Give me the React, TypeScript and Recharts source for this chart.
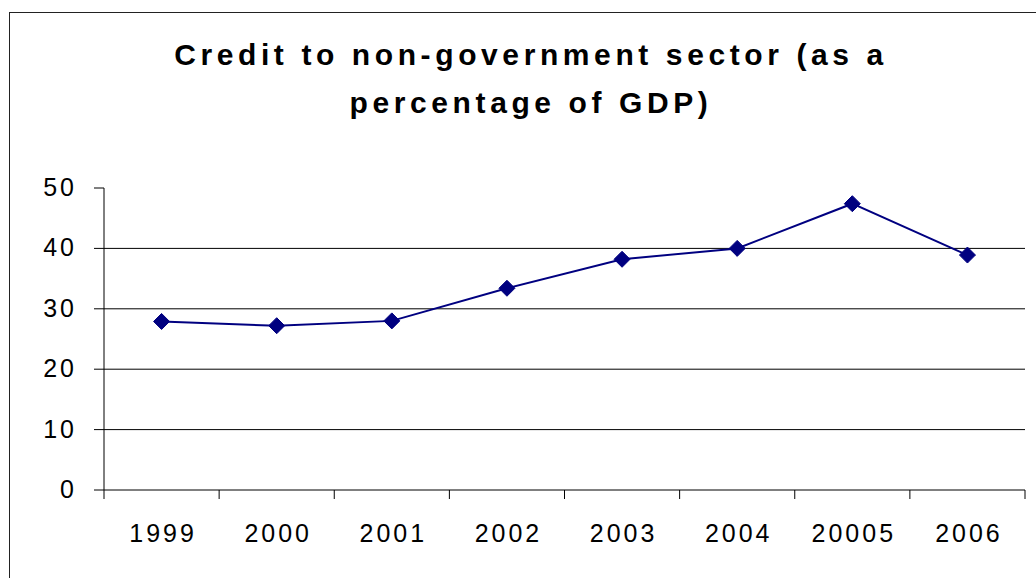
import React from 'react';
import { LineChart, Line, XAxis, YAxis, CartesianGrid } from 'recharts';

const years = ['1999', '2000', '2001', '2002', '2003', '2004', '20005', '2006'];
const credit = [27.9, 27.2, 28.0, 33.4, 38.2, 40.0, 47.4, 38.9];
const yTicks = [0, 10, 20, 30, 40, 50];
const gridValues = [10, 20, 30, 40];
const titleLines = ['Credit to non-government sector (as a', 'percentage of GDP)'];

const data = years.map((y, i) => ({ year: y, value: credit[i] }));

const W = 1036;
const H = 578;
const PLOT_LEFT = 104;
const PLOT_RIGHT = 1025;
const PLOT_TOP = 188;
const PLOT_BOTTOM = 490;
const FONT = '"Liberation Sans", Arial, sans-serif';
const BAND = (PLOT_RIGHT - PLOT_LEFT) / years.length;

const XTick = (props: any) => {
  const { x, y, payload, index } = props;
  return (
    <g>
      <line x1={x - BAND / 2} x2={x - BAND / 2} y1={y} y2={y + 9} stroke="#000" strokeWidth={1} />
      {index === years.length - 1 && (
        <line x1={x + BAND / 2} x2={x + BAND / 2} y1={y} y2={y + 9} stroke="#000" strokeWidth={1} />
      )}
      <text x={x + 1.5} y={y + 52} textAnchor="middle" fontFamily={FONT} fontSize={25} letterSpacing={3} fill="#000">
        {payload.value}
      </text>
    </g>
  );
};

const YTick = (props: any) => {
  const { x, y, payload } = props;
  return (
    <text x={x} y={y + 8} textAnchor="end" fontFamily={FONT} fontSize={25} letterSpacing={3} fill="#000">
      {payload.value}
    </text>
  );
};

const Diamond = (props: any) => {
  const { cx, cy } = props;
  if (cx == null || cy == null) return null;
  const r = 8;
  return (
    <polygon
      points={`${cx},${cy - r} ${cx + r},${cy} ${cx},${cy + r} ${cx - r},${cy}`}
      fill="#000080"
      stroke="#000080"
      strokeWidth={1}
    />
  );
};

export default function App() {
  return (
    <div style={{ position: 'absolute', left: 0, top: 0, width: W, height: H, overflow: 'hidden', background: '#fff' }}>
      <div
        style={{
          position: 'absolute',
          left: 9,
          top: 12,
          width: 1200,
          height: 800,
          border: '1px solid #222',
        }}
      />
      {titleLines.map((t, i) => (
        <div
          key={i}
          style={{
            position: 'absolute',
            left: 31,
            width: 1000,
            top: 37 + i * 48,
            textAlign: 'center',
            fontFamily: FONT,
            fontWeight: 'bold',
            fontSize: 30,
            letterSpacing: 4.6,
            lineHeight: '36px',
            color: '#000',
            whiteSpace: 'nowrap',
          }}
        >
          {t}
        </div>
      ))}
      <div style={{ position: 'absolute', left: 0, top: 0 }}>
        <LineChart
          width={W}
          height={H}
          data={data}
          margin={{ top: PLOT_TOP, right: W - PLOT_RIGHT, bottom: H - PLOT_BOTTOM - 40, left: PLOT_LEFT - 80 }}
        >
          <CartesianGrid vertical={false} horizontalValues={gridValues} stroke="#000" strokeWidth={1} />
          <XAxis
            dataKey="year"
            height={40}
            padding={{ left: BAND / 2, right: BAND / 2 }}
            axisLine={{ stroke: '#000', strokeWidth: 1 }}
            tickLine={false}
            tickSize={0}
            tickMargin={0}
            tick={<XTick />}
            interval={0}
          />
          <YAxis
            width={80}
            domain={[0, 50]}
            ticks={yTicks}
            interval={0}
            axisLine={{ stroke: '#000', strokeWidth: 1 }}
            tickLine={{ stroke: '#000', strokeWidth: 1 }}
            tickSize={10}
            tickMargin={17}
            tick={<YTick />}
          />
          <Line
            dataKey="value"
            stroke="#000080"
            strokeWidth={2}
            dot={<Diamond />}
            activeDot={false}
            isAnimationActive={false}
          />
        </LineChart>
      </div>
    </div>
  );
}
